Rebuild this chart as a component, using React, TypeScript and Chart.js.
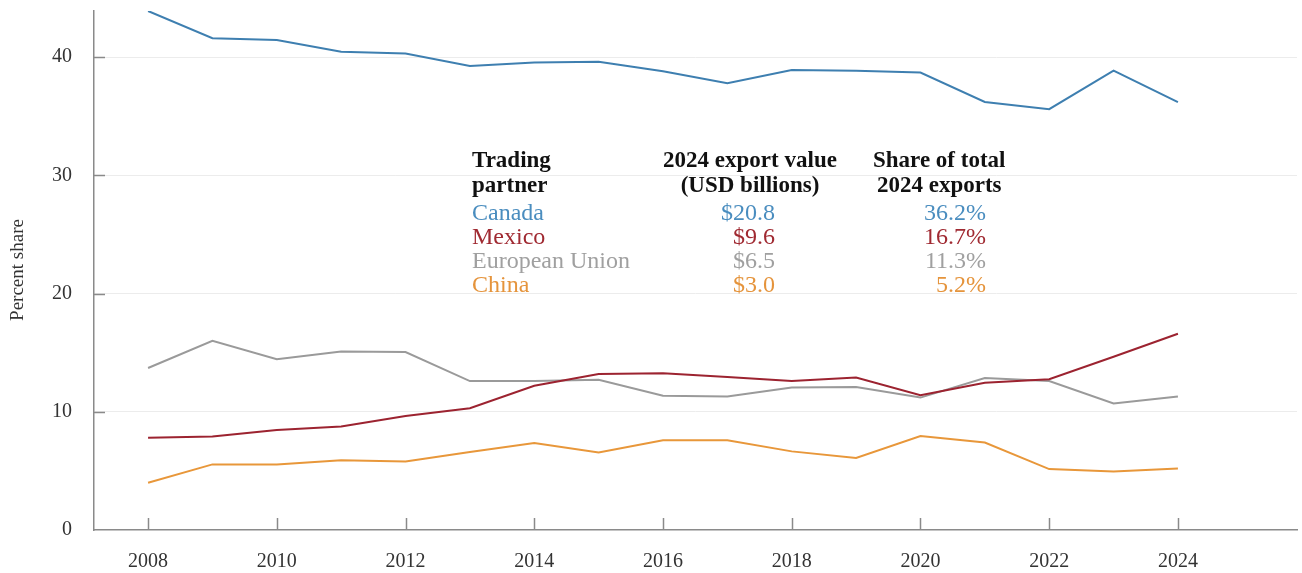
import React, { useEffect, useRef } from "react";
import { Chart, registerables } from "chart.js";

Chart.register(...registerables);

const years = [2008, 2009, 2010, 2011, 2012, 2013, 2014, 2015, 2016, 2017, 2018, 2019, 2020, 2021, 2022, 2023, 2024];
const canada = [43.9, 41.6, 41.45, 40.45, 40.3, 39.25, 39.55, 39.6, 38.8, 37.8, 38.9, 38.85, 38.7, 36.2, 35.6, 38.85, 36.2];
const mexico = [7.8, 7.9, 8.45, 8.75, 9.65, 10.3, 12.2, 13.2, 13.25, 12.95, 12.6, 12.9, 11.4, 12.45, 12.75, 14.65, 16.6];
const eu = [13.7, 16.0, 14.45, 15.1, 15.05, 12.6, 12.6, 12.7, 11.35, 11.3, 12.05, 12.1, 11.2, 12.85, 12.6, 10.7, 11.3];
const china = [4.0, 5.55, 5.55, 5.9, 5.8, 6.6, 7.35, 6.55, 7.6, 7.6, 6.65, 6.1, 7.95, 7.4, 5.15, 4.95, 5.2];

const xTickYears = [2008, 2010, 2012, 2014, 2016, 2018, 2020, 2022, 2024];
const yTickValues = [0, 10, 20, 30, 40];

const partners = ["Canada", "Mexico", "European Union", "China"];
const exportValues = ["$20.8", "$9.6", "$6.5", "$3.0"];
const shares = ["36.2%", "16.7%", "11.3%", "5.2%"];

const LINE_COLORS = ["#3e7fb0", "#9c2330", "#9a9a9a", "#e8973a"];
const TEXT_COLORS = ["#4a8dbf", "#a02a32", "#a0a0a0", "#e5943c"];
const SERIF = '"Liberation Serif", "Times New Roman", serif';

const overlayPlugin = {
  id: "overlay",
  afterDraw(chart: any) {
    const { ctx, chartArea, scales } = chart;
    const xs = scales.x;
    const ys = scales.y;
    ctx.save();
    // inward tick marks
    ctx.strokeStyle = "#8a8a8a";
    ctx.lineWidth = 1.5;
    yTickValues.forEach((v) => {
      if (v === 0) return;
      const y = Math.round(ys.getPixelForValue(v)) + 0.5;
      ctx.beginPath();
      ctx.moveTo(chartArea.left, y);
      ctx.lineTo(chartArea.left + 11, y);
      ctx.stroke();
    });
    xTickYears.forEach((v) => {
      const x = Math.round(xs.getPixelForValue(v)) + 0.5;
      ctx.beginPath();
      ctx.moveTo(x, chartArea.bottom);
      ctx.lineTo(x, chartArea.bottom - 12);
      ctx.stroke();
    });

    // y axis title
    ctx.save();
    ctx.translate(18, 270);
    ctx.rotate(-Math.PI / 2);
    ctx.font = `19px ${SERIF}`;
    ctx.fillStyle = "#333";
    ctx.textAlign = "center";
    ctx.textBaseline = "middle";
    ctx.fillText("Percent share", 0, 0);
    ctx.restore();

    // table annotation
    const col1 = 472;
    const col2c = 750;
    const col2r = 775;
    const col3r = 986;
    ctx.font = `bold 23px ${SERIF}`;
    ctx.fillStyle = "#111";
    ctx.textBaseline = "alphabetic";
    ctx.textAlign = "left";
    ctx.fillText("Trading", col1, 166.5);
    ctx.fillText("partner", col1, 191.5);
    ctx.textAlign = "center";
    ctx.fillText("2024 export value", col2c, 166.5);
    ctx.fillText("(USD billions)", col2c, 191.5);
    ctx.textAlign = "left";
    ctx.fillText("Share of total", 873, 166.5);
    ctx.fillText("2024 exports", 877, 191.5);

    ctx.font = `24px ${SERIF}`;
    const rowY = [219.5, 243.8, 268.1, 292.4];
    partners.forEach((p, i) => {
      ctx.fillStyle = TEXT_COLORS[i];
      ctx.textAlign = "left";
      ctx.fillText(p, col1, rowY[i]);
      ctx.textAlign = "right";
      ctx.fillText(exportValues[i], col2r, rowY[i]);
      ctx.fillText(shares[i], col3r, rowY[i]);
    });
    ctx.restore();
  },
};

export default function App() {
  const ref = useRef<HTMLCanvasElement | null>(null);

  useEffect(() => {
    if (!ref.current) return;
    const mk = (label: string, data: number[], i: number) => ({
      label,
      data: data.map((v, k) => ({ x: years[k], y: v })),
      borderColor: LINE_COLORS[i],
      backgroundColor: LINE_COLORS[i],
      borderWidth: 2,
      pointRadius: 0,
      tension: 0,
      fill: false,
    });
    const chart = new Chart(ref.current, {
      type: "line",
      data: {
        datasets: [
          mk("Canada", canada, 0),
          mk("Mexico", mexico, 1),
          mk("European Union", eu, 2),
          mk("China", china, 3),
        ],
      },
      options: {
        animation: false,
        responsive: false,
        devicePixelRatio: 1,
        layout: { padding: { top: 11, right: 5, left: 0, bottom: 0 } },
        plugins: {
          legend: { display: false },
          tooltip: { enabled: false },
          title: { display: false },
        },
        scales: {
          x: {
            type: "linear",
            min: 2007.16,
            max: 2025.85,
            afterFit: (s: any) => {
              s.height = 43;
              s.paddingLeft = 0;
              s.paddingRight = 0;
            },
            afterBuildTicks: (s: any) => {
              s.ticks = xTickYears.map((v) => ({ value: v }));
            },
            grid: { display: true, color: "rgba(0,0,0,0)", drawTicks: false },
            border: { display: true, color: "#8a8a8a", width: 1.5 },
            ticks: {
              padding: 20,
              color: "#333",
              font: { family: SERIF, size: 20 },
              maxRotation: 0,
              autoSkip: false,
              callback: (v: any) => String(v),
            },
          },
          y: {
            type: "linear",
            min: 0,
            max: 43.9,
            afterFit: (s: any) => {
              s.width = 94;
              s.paddingTop = 0;
              s.paddingBottom = 0;
            },
            afterBuildTicks: (s: any) => {
              s.ticks = yTickValues.map((v) => ({ value: v }));
            },
            grid: {
              color: (c: any) => (c.tick && c.tick.value === 0 ? "rgba(0,0,0,0)" : "#ececec"),
              lineWidth: 1,
              drawTicks: false,
            },
            border: { display: true, color: "#8a8a8a", width: 1.5 },
            ticks: {
              padding: 22,
              color: "#333",
              font: { family: SERIF, size: 20 },
              callback: (v: any) => String(v),
            },
          },
        },
      },
      plugins: [overlayPlugin],
    } as any);
    return () => chart.destroy();
  }, []);

  return (
    <div style={{ position: "absolute", left: 0, top: 0, width: 1302, height: 573, background: "#fff" }}>
      <canvas ref={ref} width={1302} height={573} style={{ display: "block", width: 1302, height: 573 }} />
    </div>
  );
}
